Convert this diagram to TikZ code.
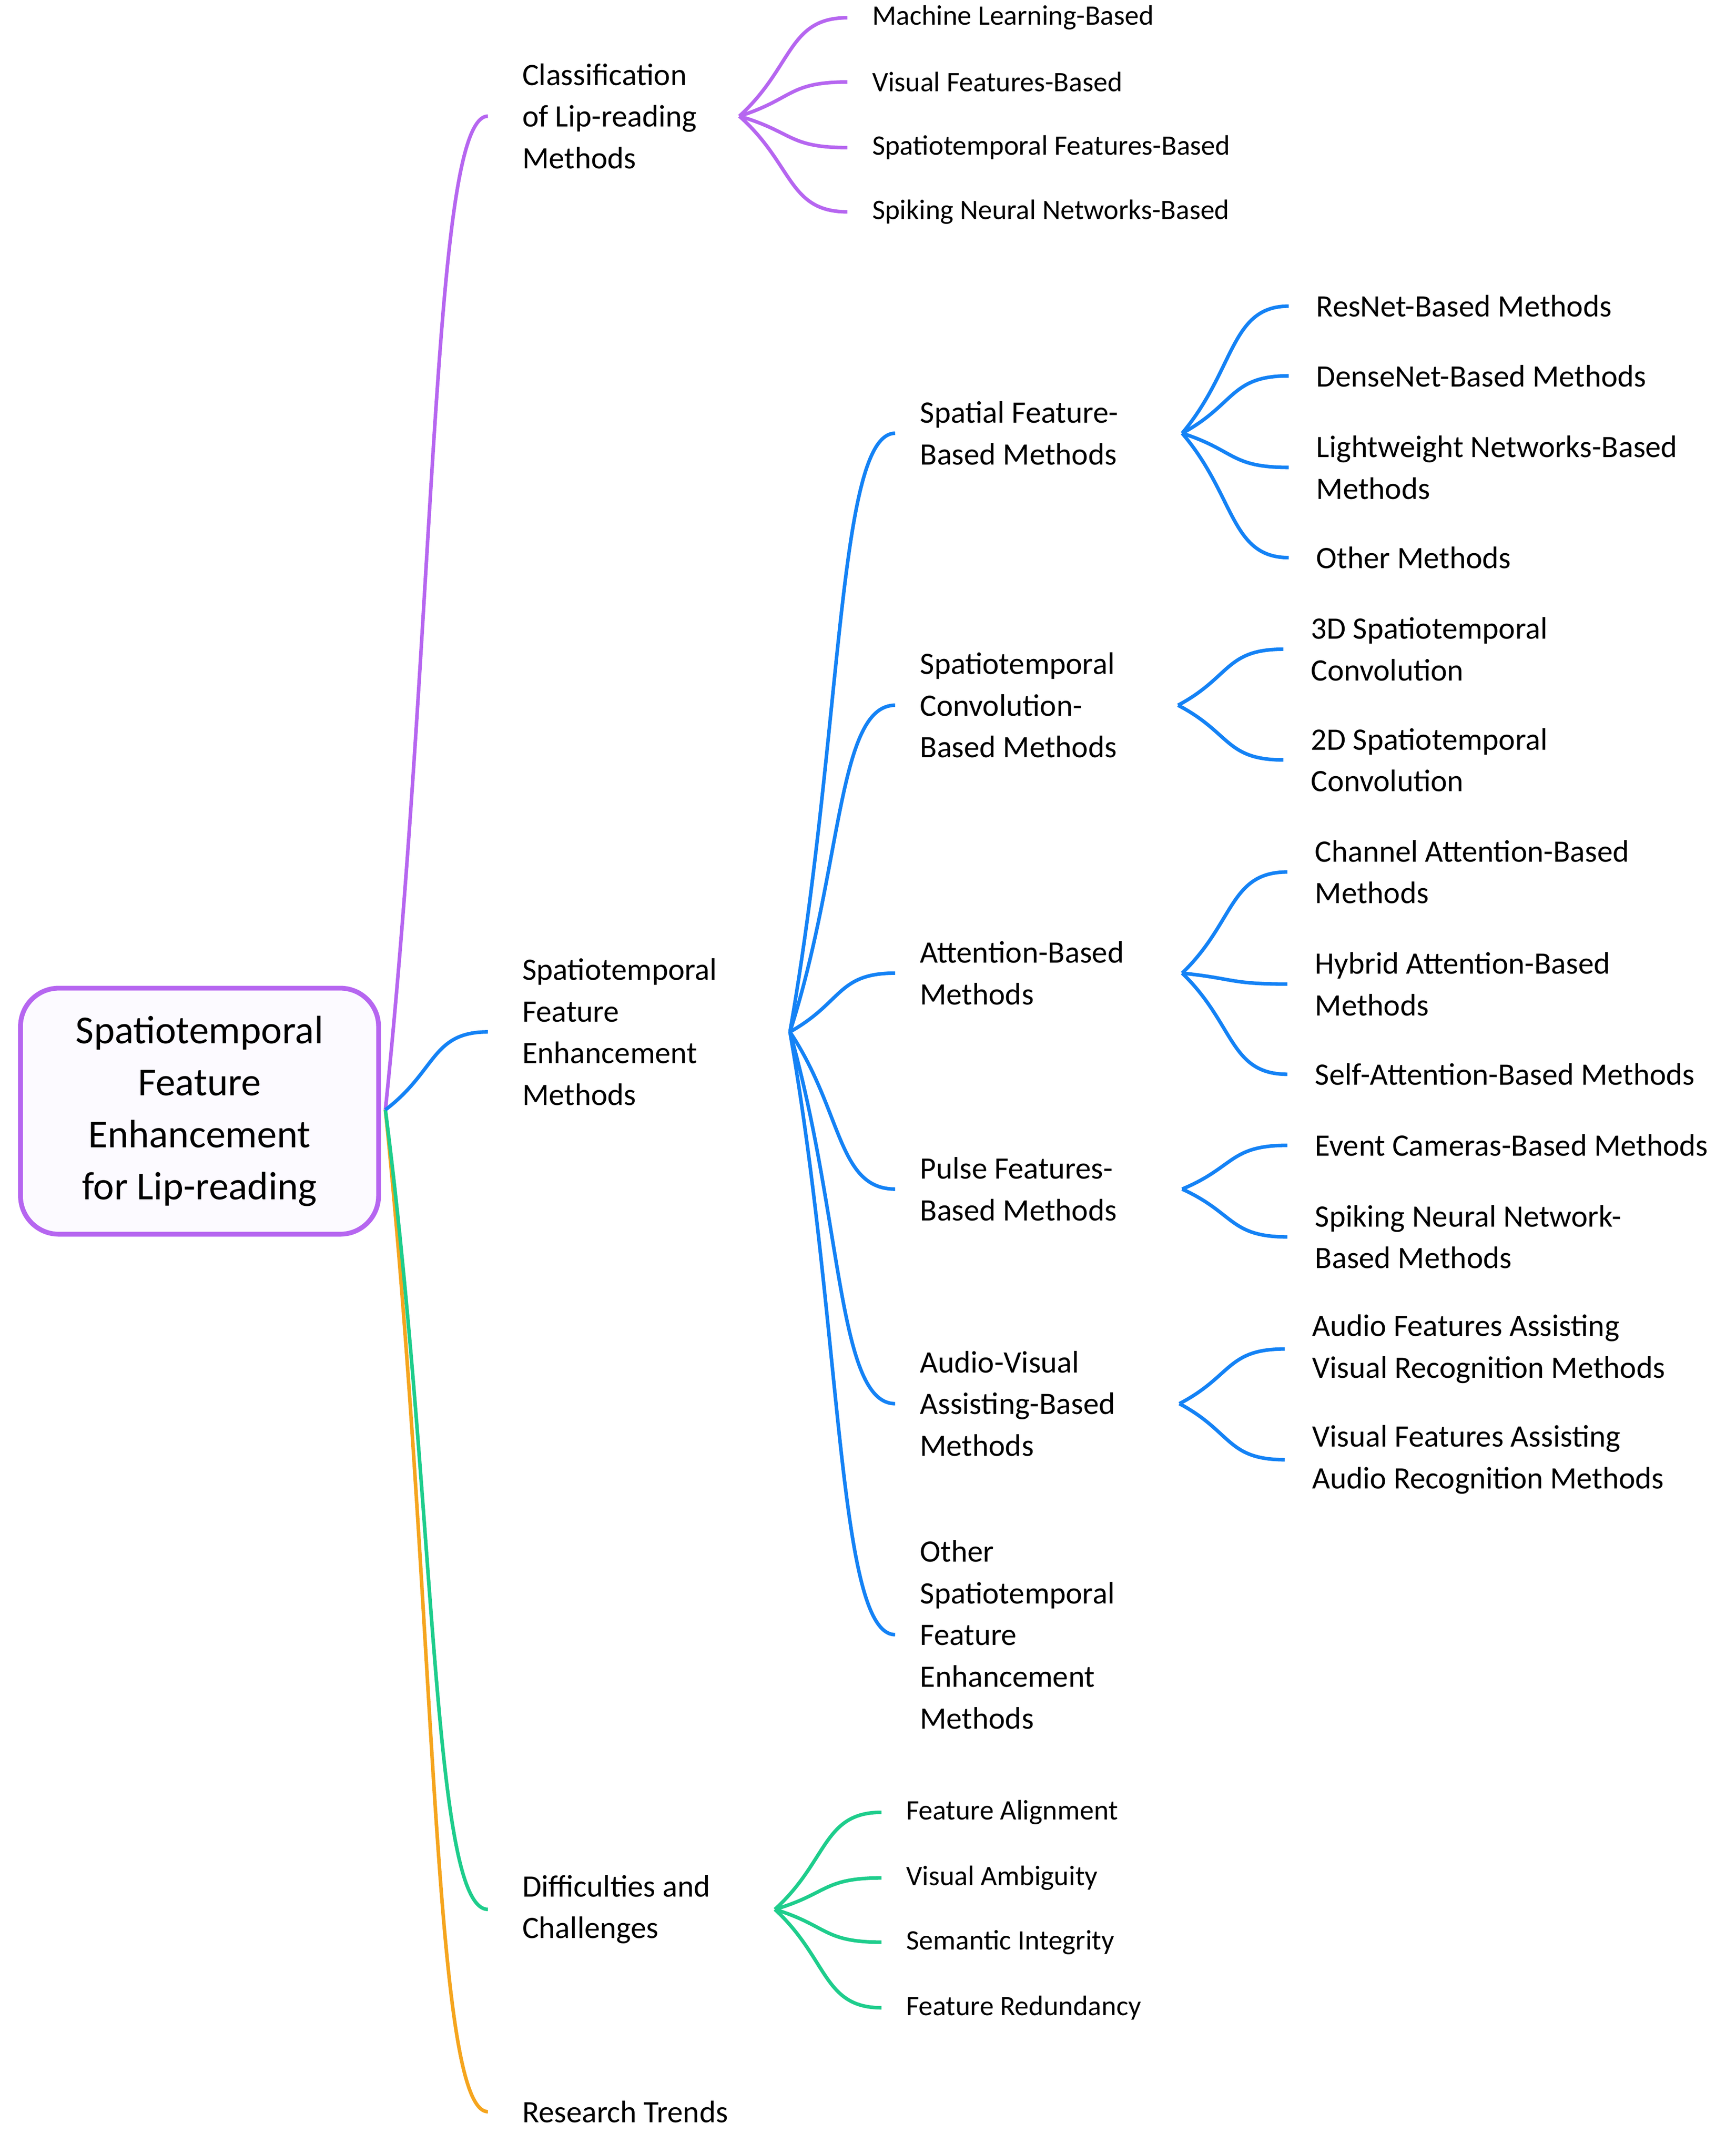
\documentclass[tikz,border=0pt]{standalone}
\usepackage{fontspec}
\setmainfont{Carlito}
\usetikzlibrary{calc}
\begin{document}
\begin{tikzpicture}[x=1pt,y=1pt,
  t/.style={anchor=west,inner sep=0pt,align=left,font=\fontsize{22.8}{30.5}\selectfont},
  ts/.style={anchor=west,inner sep=0pt,align=left,font=\fontsize{20.6}{28}\selectfont},
  pu/.style={line width=2.6pt,color={rgb,255:red,182;green,102;blue,240}},
  bl/.style={line width=2.6pt,color={rgb,255:red,20;green,130;blue,245}},
  gr/.style={line width=2.6pt,color={rgb,255:red,30;green,205;blue,140}},
  ora/.style={line width=2.6pt,color={rgb,255:red,245;green,165;blue,30}},
  sm/.style={to path={.. controls ($(\tikztostart)!0.5!(\tikztotarget)$) and ($(\tikztotarget)!0.55!(\tikztostart|-\tikztotarget)$) .. (\tikztotarget)}}]
\useasboundingbox (0,0) rectangle (1270,-1576);
\node[draw={rgb,255:red,182;green,102;blue,240},line width=3.5pt,rounded corners=28pt,fill={rgb,255:red,252;green,250;blue,255},
  minimum width=262pt,minimum height=180pt,align=center,font=\fontsize{29}{38}\selectfont] (root) at (146,-813)
  {Spatiotemporal\\Feature\\Enhancement\\for Lip-reading};
\coordinate (r) at (282,-812);
\newcommand{\E}[4]{\coordinate (#2-e) at ([xshift=-#4pt]#2.west); \draw[#3] (#1) to[sm] (#2-e);}
% level 1
\node[t] (cl) at (382,-85) {Classification\\of Lip-reading\\Methods};
\node[t] (st) at (382,-755) {Spatiotemporal\\Feature\\Enhancement\\Methods};
\node[t] (dc) at (382,-1397) {Difficulties and\\Challenges};
\node[t] (rt) at (382,-1545) {Research Trends};
\E{r}{rt}{ora}{25}
\E{r}{dc}{gr}{25}
\E{r}{cl}{pu}{25}
\E{r}{st}{bl}{25}
% classification
\coordinate (hc) at (541,-85);
\foreach \n/\y/\s in {c1/13/Machine Learning-Based,c2/60/Visual Features-Based,c3/108/Spatiotemporal Features-Based,c4/155/Spiking Neural Networks-Based}{
  \node[ts] (\n) at (638,-\y) {\s};
  \E{hc}{\n}{pu}{18}}
% STFE children
\coordinate (hs) at (578,-755);
\node[t] (s1) at (673,-317) {Spatial Feature-\\Based Methods};
\node[t] (s2) at (673,-516) {Spatiotemporal\\Convolution-\\Based Methods};
\node[t] (s3) at (673,-712) {Attention-Based\\Methods};
\node[t] (s4) at (673,-870) {Pulse Features-\\Based Methods};
\node[t] (s5) at (673,-1027) {Audio-Visual\\Assisting-Based\\Methods};
\node[t] (s6) at (673,-1196) {Other\\Spatiotemporal\\Feature\\Enhancement\\Methods};
\foreach \n in {s1,s2,s3,s4,s5,s6}{\E{hs}{\n}{bl}{18}}
% leaves
\newcommand{\leaf}[5]{\node[t] (#1) at (#3,-#4) {#5}; \E{#2}{#1}{bl}{20}}
\coordinate (h1) at (865,-317);
\leaf{a1}{h1}{963}{224}{ResNet-Based Methods}
\leaf{a2}{h1}{963}{275}{DenseNet-Based Methods}
\leaf{a3}{h1}{963}{342}{Lightweight Networks-Based\\Methods}
\leaf{a4}{h1}{963}{408}{Other Methods}
\coordinate (h2) at (862,-516);
\leaf{b1}{h2}{959}{475}{3D Spatiotemporal\\Convolution}
\leaf{b2}{h2}{959}{556}{2D Spatiotemporal\\Convolution}
\coordinate (h3) at (865,-712);
\leaf{c5}{h3}{962}{638}{Channel Attention-Based\\Methods}
\leaf{c6}{h3}{962}{720}{Hybrid Attention-Based\\Methods}
\leaf{c7}{h3}{962}{786}{Self-Attention-Based Methods}
\coordinate (h4) at (865,-870);
\leaf{d1}{h4}{962}{838}{Event Cameras-Based Methods}
\leaf{d2}{h4}{962}{905}{Spiking Neural Network-\\Based Methods}
\coordinate (h5) at (863,-1027);
\leaf{f1}{h5}{960}{987}{Audio Features Assisting\\Visual Recognition Methods}
\leaf{f2}{h5}{960}{1068}{Visual Features Assisting\\Audio Recognition Methods}
% difficulties
\coordinate (hd) at (567,-1397);
\foreach \n/\y/\s in {g1/1326/Feature Alignment,g2/1374/Visual Ambiguity,g3/1421/Semantic Integrity,g4/1469/Feature Redundancy}{
  \node[ts] (\n) at (663,-\y) {\s};
  \E{hd}{\n}{gr}{18}}
\end{tikzpicture}
\end{document}
